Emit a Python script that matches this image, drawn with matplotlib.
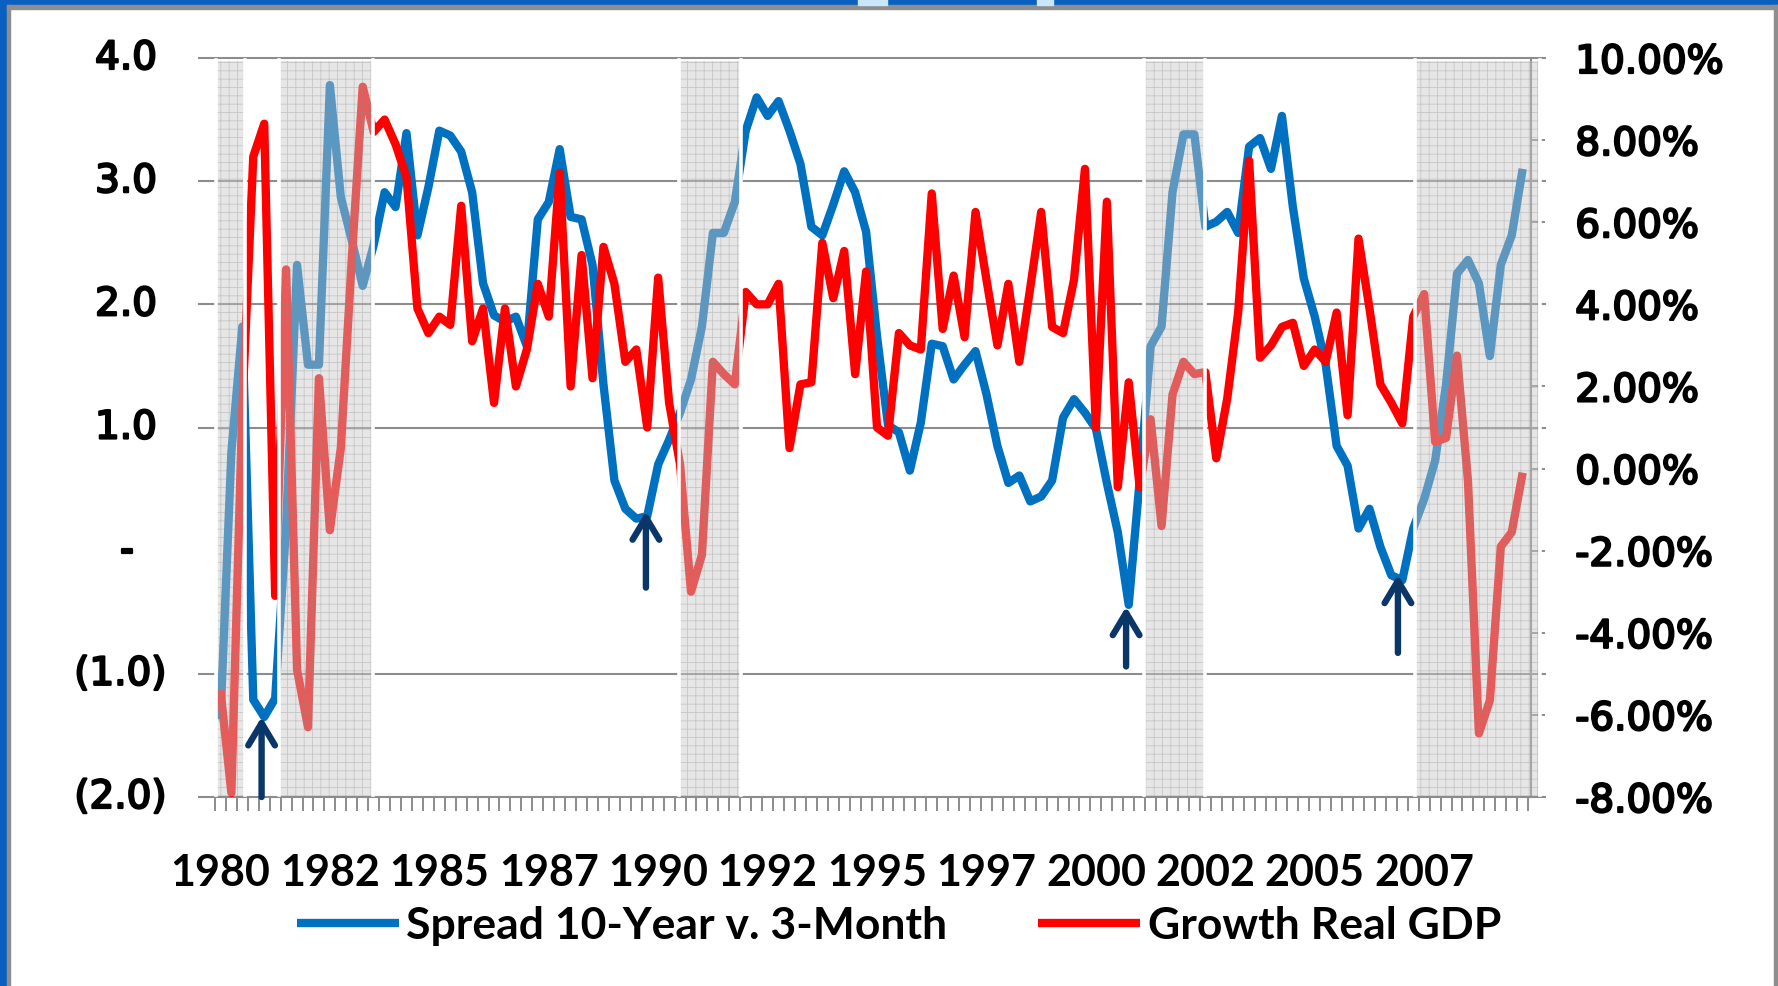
import numpy as np
import matplotlib
matplotlib.use('Agg')
import matplotlib.pyplot as plt
from matplotlib.patches import Rectangle
from matplotlib.font_manager import FontProperties
from matplotlib.transforms import ScaledTranslation, blended_transform_factory
import matplotlib.patheffects as pe

# ---------------- data ----------------
start_year = 1980.0   # first observation: 1980 Q1, quarterly data

spread = [-1.37, 0.80, 1.82, -1.21, -1.35, -1.20, 0.20, 2.32, 1.51, 1.51,
          3.78, 2.87, 2.52, 2.15, 2.48, 2.91, 2.79, 3.39, 2.56, 2.95,
          3.41, 3.37, 3.24, 2.91, 2.17, 1.91, 1.86, 1.90, 1.66, 2.69,
          2.83, 3.26, 2.71, 2.69, 2.32, 1.35, 0.57, 0.34, 0.26, 0.28,
          0.70, 0.90, 1.12, 1.39, 1.82, 2.58, 2.58, 2.83, 3.41, 3.68,
          3.53, 3.65, 3.41, 3.14, 2.63, 2.56, 2.81, 3.08, 2.91, 2.59,
          1.74, 1.02, 0.96, 0.65, 1.04, 1.68, 1.66, 1.39, 1.51, 1.62,
          1.27, 0.85, 0.55, 0.61, 0.40, 0.44, 0.57, 1.08, 1.23, 1.12,
          0.99, 0.55, 0.15, -0.44, 0.57, 1.66, 1.82, 2.91, 3.38, 3.38,
          2.63, 2.67, 2.75, 2.58, 3.28, 3.35, 3.10, 3.53, 2.79, 2.21,
          1.90, 1.51, 0.85, 0.69, 0.18, 0.34, 0.03, -0.20, -0.24, 0.18,
          0.42, 0.73, 1.35, 2.25, 2.36, 2.17, 1.58, 2.32, 2.56, 3.10]

gdp = [-5.4, -7.9, 1.5, 7.6, 8.4, -3.1, 4.85, -4.9, -6.3, 2.2,
       -1.5, 0.5, 5.1, 9.3, 8.2, 8.5, 7.9, 7.1, 3.9, 3.3,
       3.7, 3.5, 6.4, 3.1, 3.9, 1.6, 3.9, 2.0, 2.9, 4.5,
       3.7, 7.2, 2.0, 5.2, 2.2, 5.4, 4.5, 2.6, 2.9, 1.0,
       4.65, 1.6, 0.1, -3.0, -2.1, 2.6, 2.3, 2.05, 4.3, 4.0,
       4.0, 4.5, 0.5, 2.05, 2.1, 5.5, 4.15, 5.3, 2.3, 4.8,
       1.0, 0.8, 3.3, 3.0, 2.9, 6.7, 3.4, 4.7, 3.2, 6.25,
       4.6, 3.0, 4.5, 2.6, 4.4, 6.25, 3.45, 3.3, 4.6, 7.3,
       1.0, 6.5, -0.45, 2.1, -0.45, 1.2, -1.4, 1.8, 2.6, 2.3,
       2.35, 0.25, 1.7, 3.8, 7.5, 2.7, 3.0, 3.45, 3.55, 2.5,
       2.9, 2.6, 3.8, 1.3, 5.6, 3.9, 2.05, 1.6, 1.1, 3.7,
       4.25, 0.65, 0.75, 2.75, -0.3, -6.45, -5.65, -1.9, -1.55, -0.1]

year_labels = ['1980', '1982', '1985', '1987', '1990', '1992',
               '1995', '1997', '2000', '2002', '2005', '2007']

rec_start = [1979.89, 1981.34, 1990.48, 2001.09, 2007.30]
rec_end = [1980.55, 1983.48, 1991.89, 2002.50, 2010.15]

arrow_x = [1980.94, 1989.72, 2000.69, 2006.90]
arrow_tip = [-1.35, 0.32, -0.455, -0.195]
arrow_tail = [-2.0, -0.30, -0.94, -0.83]

left_ticks = [4, 3, 2, 1, 0, -1, -2]
left_labels = ['4.0', '3.0', '2.0', '1.0', '-', '(1.0)', '(2.0)']
right_ticks = [10, 8, 6, 4, 2, 0, -2, -4, -6, -8]
right_labels = ['10.00%', '8.00%', '6.00%', '4.00%', '2.00%', '0.00%',
                '-2.00%', '-4.00%', '-6.00%', '-8.00%']

series_names = ['Spread 10-Year v. 3-Month', 'Growth Real GDP']

# ---------------- figure ----------------
W, H, DPI = 1778, 987, 100
fig = plt.figure(figsize=(W / DPI, H / DPI), dpi=DPI, facecolor='white')
plt.rcParams['hatch.linewidth'] = 0.6

# slide frame decoration
blue = '#0a60c0'
frame_gray = '#8e8e8e'
fig.add_artist(Rectangle((0, 1 - 6 / H), 1, 6 / H, transform=fig.transFigure,
                         color=blue, zorder=0))
fig.add_artist(Rectangle((0, 0), 7 / W, 1, transform=fig.transFigure,
                         color=blue, zorder=0))
fig.add_artist(Rectangle((7 / W, 1 - 10 / H), 1 - 7 / W, 4 / H,
                         transform=fig.transFigure, color=frame_gray, zorder=0))
fig.add_artist(Rectangle((7 / W, 0), 3 / W, 1 - 6 / H,
                         transform=fig.transFigure, color=frame_gray, zorder=0))
fig.add_artist(Rectangle((1 - 4 / W, 0), 4 / W, 1 - 6 / H,
                         transform=fig.transFigure, color=frame_gray, zorder=0))
fig.add_artist(Rectangle((858 / W, 1 - 6 / H), 29 / W, 6 / H,
                         transform=fig.transFigure, color='#c9e6fb', zorder=0))
fig.add_artist(Rectangle((1037 / W, 1 - 6 / H), 16 / W, 6 / H,
                         transform=fig.transFigure, color='#c9e6fb', zorder=0))

ax_left, ax_right_px, ax_top, ax_bot = 199, 1545, 59, 798
ax = fig.add_axes([ax_left / W, 1 - ax_bot / H, (ax_right_px - ax_left) / W,
                   (ax_bot - ax_top) / H])
ax.set_facecolor('none')
ax2 = ax.twinx()

x = start_year + np.arange(len(spread)) / 4.0

grid_gray = '#8c8c8c'
line_blue = '#0070c0'
line_red = '#ff0000'
navy = '#0b3768'

l1, = ax.plot(x, spread, color=line_blue, lw=6.0, solid_joinstyle='round',
              solid_capstyle='butt', zorder=3)
l2, = ax2.plot(x, gdp, color=line_red, lw=6.0, solid_joinstyle='round',
               solid_capstyle='butt', zorder=3)

ax.set_xlim(1979.51, 2010.26)
ax.set_ylim(-2, 4)
ax2.set_ylim(-8, 10)

# gridlines (left axis), no line at zero
ax.set_yticks(left_ticks)
ax.set_yticklabels([''] * len(left_ticks))
ax.tick_params(axis='y', length=0)
ax.grid(axis='y', color=grid_gray, lw=1.5, zorder=0)
for val, gl in zip(left_ticks, ax.get_ygridlines()):
    gl.set_clip_on(False)
    if val == 0 or val == -2:
        gl.set_visible(False)

tick_font = FontProperties(family='DejaVu Sans', size=28)
stroke = [pe.withStroke(linewidth=1.6, foreground='black')]
ytrans = blended_transform_factory(ax.transAxes, ax.transData)
for val, lab in zip(left_ticks, left_labels):
    if lab.startswith('('):
        dx = -32.5
    elif lab == '-':
        dx = -65
    else:
        dx = -42
    t = ax.text(0, val, lab, ha='right', va='center', fontproperties=tick_font,
                transform=ytrans + ScaledTranslation(dx / DPI, 0, fig.dpi_scale_trans))
    t.set_path_effects(stroke)

# x axis: quarterly tick marks + year labels every 10 quarters
ax.set_xticks([start_year + 2.5 * i for i in range(len(year_labels))])
ax.set_xticklabels(year_labels)
ax.set_xticks(start_year + (np.arange(len(spread) + 1) - 0.5) / 4.0, minor=True)
ax.tick_params(axis='x', which='major', length=0, pad=39.5)
ax.tick_params(axis='x', which='minor', length=10, width=1.4, color=grid_gray,
               direction='out')
year_font = FontProperties(family='Lato', weight='bold', size=31)
for t in ax.get_xticklabels():
    t.set_fontproperties(year_font)

for s in ['left', 'right', 'top']:
    ax.spines[s].set_visible(False)
ax.spines['bottom'].set_color(grid_gray)
ax.spines['bottom'].set_linewidth(1.5)

# right axis
for s in ['left', 'top', 'bottom']:
    ax2.spines[s].set_visible(False)
ax2.spines['right'].set_position(('data', 2009.95))
ax2.spines['right'].set_color(grid_gray)
ax2.spines['right'].set_linewidth(1.5)
ax2.set_yticks(right_ticks)
ax2.set_yticklabels(right_labels)
ax2.tick_params(axis='y', length=10, width=1.4, color=grid_gray, direction='out',
                pad=21.6)
for t in ax2.get_yticklabels():
    t.set_fontproperties(tick_font)
    t.set_path_effects(stroke)

# recession shading (drawn over both lines)
for s0, s1 in zip(rec_start, rec_end):
    ax2.axvspan(s0, s1, ymin=0.002, ymax=0.996, facecolor=(0.79, 0.79, 0.79, 0.45),
                edgecolor=(0.55, 0.55, 0.55, 0.35), hatch='++', lw=0, zorder=5)
    for xe in (s0, s1):
        ax2.axvline(xe, ymin=0.003, ymax=0.997, color='white', lw=2.6, zorder=6)

# arrows pointing at the curve inversions
for xa, yt, yb in zip(arrow_x, arrow_tip, arrow_tail):
    ax2.annotate('', xy=(xa, yt), xytext=(xa, yb), xycoords=ax.transData,
                 textcoords=ax.transData,
                 arrowprops=dict(arrowstyle='->,head_length=0.8,head_width=0.48',
                                 lw=4.6, color=navy, shrinkA=0, shrinkB=0,
                                 mutation_scale=20),
                 zorder=8, annotation_clip=False)

# legend
leg_font = FontProperties(family='Lato', weight='bold', size=32)
ax2.legend([l1, l2], series_names, loc='center', bbox_to_anchor=(0.5055, 0.0615),
           bbox_transform=fig.transFigure, ncol=2, frameon=False, prop=leg_font,
           handlelength=2.3, handletextpad=0.16, columnspacing=2.05,
           borderpad=0, borderaxespad=0)

fig.savefig('out.png', dpi=DPI, facecolor='white')
